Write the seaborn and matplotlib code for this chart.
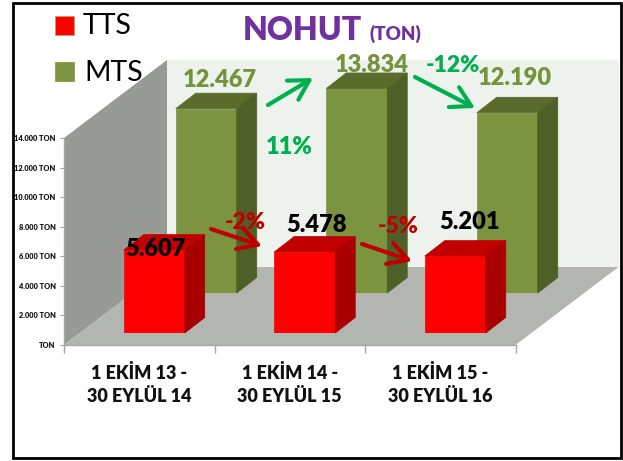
import pandas as pd
import matplotlib
matplotlib.use('Agg')
import matplotlib.pyplot as plt
from matplotlib.patches import Polygon, Rectangle
import seaborn as sns

############################Data##########################################################
periods = ['1 EKİM 13 -\n30 EYLÜL 14', '1 EKİM 14 -\n30 EYLÜL 15', '1 EKİM 15 -\n30 EYLÜL 16']
tts = [5607, 5478, 5201]
mts = [12467, 13834, 12190]
tts_labels = ['5.607', '5.478', '5.201']
mts_labels = ['12.467', '13.834', '12.190']
y_ticks = [0, 2000, 4000, 6000, 8000, 10000, 12000, 14000]
y_tick_labels = ['TON', '2.000 TON', '4.000 TON', '6.000 TON', '8.000 TON', '10.000 TON', '12.000 TON', '14.000 TON']
df = pd.DataFrame({'period': periods, 'TTS': tts, 'MTS': mts})

############################Layout (pixels)###############################################
W, H = 623, 461
AX_L, AX_R, AX_T, AX_B = 64, 515.5, 138, 345
PX_X = (AX_R - AX_L) / 3        # pixels per category
PX_Y = (AX_B - AX_T) / 14000    # pixels per ton
HEAVY = 'heavy'

sns.set_style('white')
plt.rcParams['font.family'] = ['Lato', 'DejaVu Sans']

fig = plt.figure(figsize=(W / 100, H / 100), dpi=100, facecolor='white')


def layer(dx, dy, z):
    #axes for one depth plane, shifted back from the front plane by dx, dy pixels
    ax = fig.add_axes([(AX_L + dx) / W, (H - AX_B + dy) / H, (AX_R - AX_L) / W, (AX_B - AX_T) / H], zorder=z)
    ax.patch.set_alpha(0)
    ax.set_xlim(-0.5, 2.5)
    ax.set_ylim(0, 14000)
    return ax


def bars3d(ax, col, front, top, side):
    sns.barplot(data=df, x='period', y=col, color=front, saturation=1, width=61 / PX_X, ax=ax,
                edgecolor=front, linewidth=0.5)
    ax.set_xlim(-0.5, 2.5)
    ax.set_ylim(0, 14000)
    ax.axis('off')
    ddx, ddy = 20 / PX_X, 15.5 / PX_Y
    for p in list(ax.patches):
        x0, x1, h = p.get_x(), p.get_x() + p.get_width(), p.get_height()
        ax.add_patch(Polygon([(x0, h), (x1, h), (x1 + ddx, h + ddy), (x0 + ddx, h + ddy)],
                             facecolor=top, edgecolor=top, lw=0.5, clip_on=False))
        ax.add_patch(Polygon([(x1, 0), (x1 + ddx, ddy), (x1 + ddx, h + ddy), (x1, h)],
                             facecolor=side, edgecolor=side, lw=0.5, clip_on=False))


############################Walls, floor and axis#########################################
base = layer(0, 0, 1)
wx, wy = 103 / PX_X, 78 / PX_Y
base.add_patch(Polygon([(-0.5 + wx, wy), (2.5 + wx, wy), (2.5 + wx, 14000 + wy), (-0.5 + wx, 14000 + wy)],
                       facecolor='#eef2ed', edgecolor='none', clip_on=False))
base.add_patch(Polygon([(-0.5, 0), (-0.5 + wx, wy), (-0.5 + wx, 14000 + wy), (-0.5, 14000)],
                       facecolor='#979a95', edgecolor='none', clip_on=False))
base.add_patch(Polygon([(-0.5, 0), (2.5, 0), (2.5 + wx, wy), (-0.5 + wx, wy)],
                       facecolor='#b2b5b0', edgecolor='none', clip_on=False))
sns.despine(ax=base, top=True, right=True)
for s in ['left', 'bottom']:
    base.spines[s].set_color('#a6a6a6')
    base.spines[s].set_linewidth(1)
base.set_yticks(y_ticks)
base.set_yticklabels(y_tick_labels, fontsize=5.3, fontweight=HEAVY, color='#111111')
base.set_xticks([-0.5, 0.5, 1.5, 2.5])
base.set_xticklabels([])
base.set_xticks([0, 1, 2], minor=True)
base.set_xticklabels(periods, minor=True, fontsize=13, fontweight=HEAVY, color='#111111', linespacing=1.42)
base.tick_params(axis='y', length=3, width=0.8, color='#a6a6a6', pad=3, left=True)
base.tick_params(axis='x', which='major', length=6, width=1, color='#a6a6a6', bottom=True)
base.tick_params(axis='x', which='minor', length=0, pad=14)

############################Bars##########################################################
ax_g = layer(15 + 52, 12 + 40, 2)
bars3d(ax_g, 'MTS', '#7c943f', '#5b6b2b', '#4f5f28')
ax_r = layer(15, 12, 3)
bars3d(ax_r, 'TTS', '#ff0000', '#c00000', '#a80000')

############################Overlay in pixel coordinates##################################
top = fig.add_axes([0, 0, 1, 1], zorder=5)
top.patch.set_alpha(0)
top.set_xlim(0, W)
top.set_ylim(H, 0)
top.axis('off')

top.add_patch(Rectangle((13, 3), 607.5, 455, fill=False, edgecolor='black', lw=2))

top.add_patch(Rectangle((55, 16), 19, 19, facecolor='#ff0000', edgecolor='#c8a060', lw=0.5))
top.add_patch(Rectangle((55, 62), 19, 19, facecolor='#7c943f', edgecolor='#7c943f', lw=0.5))
top.text(83, 26, 'TTS', fontsize=20.5, color='black', va='center', ha='left')
top.text(84, 73, 'MTS', fontsize=20.5, color='black', va='center', ha='left')

top.text(243, 31, 'NOHUT', fontsize=23, fontweight=HEAVY, color='#7030a0', va='center', ha='left')
top.text(370, 34, '(TON)', fontsize=13.5, fontweight=HEAVY, color='#7030a0', va='center', ha='left')

for x, y, s in zip([155, 316, 469], [249, 225, 222], tts_labels):
    top.text(x, y, s, fontsize=17, fontweight=HEAVY, color='black', ha='center', va='center')
for x, y, s in zip([220, 372, 515], [80, 65, 78], mts_labels):
    top.text(x, y, s, fontsize=17, fontweight=HEAVY, color='#76923c', ha='center', va='center')

top.text(289, 147, '11%', fontsize=17, fontweight=HEAVY, color='#00b050', ha='center', va='center')
top.text(453, 65, '-12%', fontsize=16.5, fontweight=HEAVY, color='#00b050', ha='center', va='center')
top.text(245, 222, '-2%', fontsize=16.5, fontweight=HEAVY, color='#c00000', ha='center', va='center')
top.text(398, 226, '-5%', fontsize=16.5, fontweight=HEAVY, color='#c00000', ha='center', va='center')

arrows = [((268, 105), (313, 78), '#00b050'), ((415, 77), (475, 108), '#00b050'),
          ((211, 229), (262, 246), '#c00000'), ((362, 244), (412, 261), '#c00000')]
for start, end, c in arrows:
    top.annotate('', xy=end, xytext=start,
                 arrowprops=dict(arrowstyle='->,head_length=0.7,head_width=0.4', color=c, lw=3,
                                 shrinkA=0, shrinkB=0, mutation_scale=20))

plt.savefig('out.png', dpi=100)
